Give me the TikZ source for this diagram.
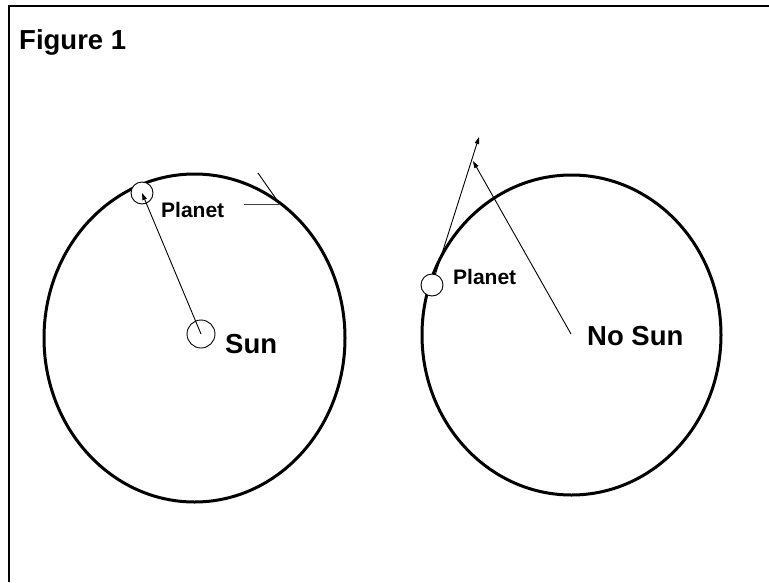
\documentclass[tikz,border=0pt]{standalone}
\usepackage{fontspec}
\setmainfont{Liberation Sans}
\usetikzlibrary{arrows.meta}
\begin{document}
\begin{tikzpicture}[x=1pt,y=-1pt,
  orbit/.style={line width=3pt},
  body/.style={circle,draw,line width=0.9pt,fill=white,inner sep=0pt},
  thinline/.style={line width=0.9pt},
  arr/.style={thinline,-{Triangle[length=7pt,width=4.5pt]}},
  lbl/.style={font=\bfseries\fontsize{21}{24}\selectfont,inner sep=0pt,anchor=west},
  big/.style={font=\bfseries\fontsize{27.5}{30}\selectfont,inner sep=0pt,anchor=west}]
\useasboundingbox (0,0) rectangle (769,582);
% frame
\coordinate (fbl) at (9,582);
\coordinate (ftl) at (9,5.5);
\coordinate (ftr) at (769,5.5);
\draw[line width=2pt] (fbl) -- (ftl) -- (ftr);
\node[big] (fig) at (19,42) {Figure 1};
% left system
\draw[orbit] (194.5,338) ellipse [x radius=150.5pt, y radius=164pt];
\node[body,minimum size=28pt] (sun) at (201,334) {};
\node[body,minimum size=22pt] (p1) at (142,193) {};
\draw[arr] (sun.center) -- (p1.center);
\coordinate (t1a) at (258,173);
\coordinate (t1b) at (279,203);
\coordinate (h1a) at (244,204);
\coordinate (h1b) at (279,204);
\draw[thinline] (t1a) -- (t1b);
\draw[thinline,black!75] (h1a) -- (h1b);
\node[lbl] (pl1) at (161,210) {Planet};
\node[big] (sunl) at (225,344) {Sun};
% right system
\draw[orbit] (571.5,335) ellipse [x radius=149.5pt, y radius=160pt];
\coordinate (nosun) at (571,334);
\coordinate (tip2) at (479,137);
\coordinate (tip3) at (473,161);
\draw[arr] (432,285) -- (tip2);
\node[body,minimum size=22pt] (p2) at (432,285) {};
\draw[arr] (nosun) -- (tip3);
\node[lbl] (pl2) at (453,277) {Planet};
\node[big] (nosunl) at (587,336) {No Sun};
\end{tikzpicture}
\end{document}
